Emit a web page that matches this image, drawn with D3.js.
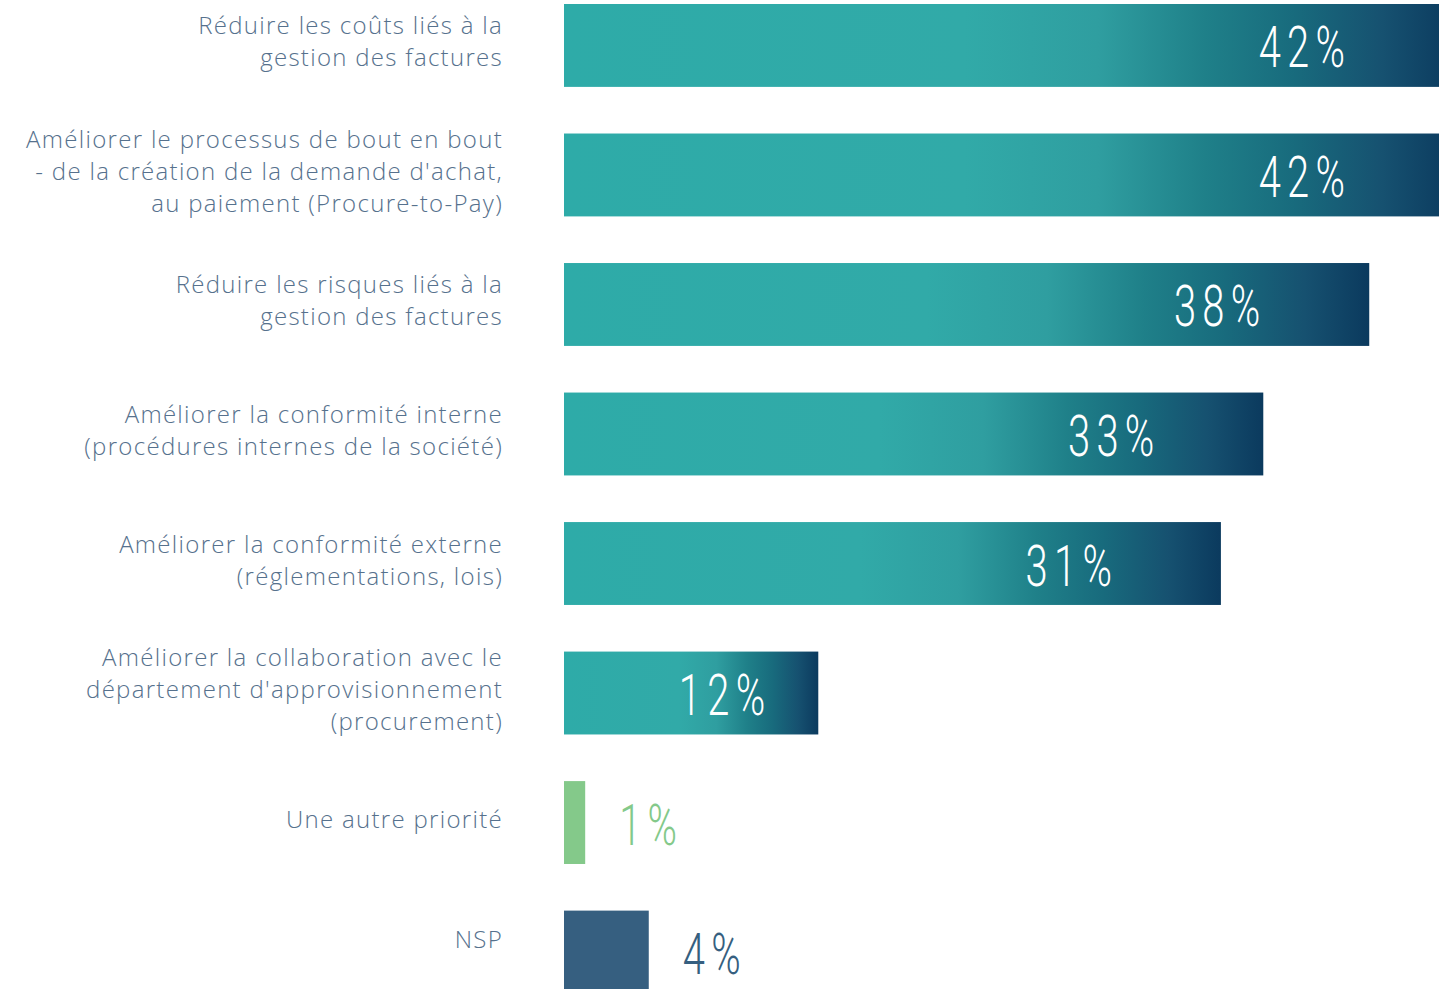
<!DOCTYPE html>
<meta charset="utf-8">
<style>
body { margin: 0; background: #fff; }
.cat { font: 300 24px "Open Sans", sans-serif; letter-spacing: 1.3px; fill: #56718d; }
.val { font-family: Roboto, sans-serif; font-weight: 300; font-size: 57px; letter-spacing: 9px; }
</style>
<svg width="1439" height="989"></svg>
<script src="https://d3js.org/d3.v7.min.js"></script>
<script>
var categories = [
  ["Réduire les coûts liés à la", "gestion des factures"],
  ["Améliorer le processus de bout en bout", "- de la création de la demande d'achat,", "au paiement (Procure-to-Pay)"],
  ["Réduire les risques liés à la", "gestion des factures"],
  ["Améliorer la conformité interne", "(procédures internes de la société)"],
  ["Améliorer la conformité externe", "(réglementations, lois)"],
  ["Améliorer la collaboration avec le", "département d'approvisionnement", "(procurement)"],
  ["Une autre priorité"],
  ["NSP"]
];
var values = [42, 42, 38, 33, 31, 12, 1, 4];
// bar style: "grad" = teal->navy gradient, otherwise plain colour
var barKinds = ["grad", "grad", "grad", "grad", "grad", "grad", "#84c98a", "#365f80"];

var svg = d3.select("svg");

var x = d3.scaleLinear().domain([0, 42]).range([564, 1454]);
var y = d3.scaleBand()
    .domain(d3.range(categories.length))
    .range([4, 993.5])
    .paddingInner(0.36)
    .paddingOuter(0);

var grad = svg.append("defs").append("linearGradient")
    .attr("id", "barGrad")
    .attr("x1", "0%").attr("x2", "100%").attr("y1", "0%").attr("y2", "0%");
[[0, "#2eaba8"], [0.45, "#31aaa8"], [0.6, "#2f9ea0"], [0.72, "#1f8089"], [0.82, "#186b7d"], [0.92, "#165170"], [1, "#0b3a5e"]]
  .forEach(function(s) {
    grad.append("stop").attr("offset", s[0]).attr("stop-color", s[1]);
  });

var rows = svg.selectAll(".row")
    .data(values.map(function(v, i) { return {v: v, i: i, kind: barKinds[i], lines: categories[i]}; }))
  .enter().append("g")
    .attr("class", "row");

rows.append("rect")
    .attr("x", x(0))
    .attr("y", function(d) { return y(d.i); })
    .attr("width", function(d) { return x(d.v) - x(0); })
    .attr("height", y.bandwidth())
    .attr("fill", function(d) { return d.kind == "grad" ? "url(#barGrad)" : d.kind; });

// category labels, right aligned, centred on the bar
rows.append("text")
    .attr("class", "cat")
    .attr("text-anchor", "end")
    .each(function(d) {
      var t = d3.select(this),
          lh = 32,
          cy = y(d.i) + y.bandwidth() / 2 - 3,
          top = cy - (d.lines.length - 1) * lh / 2;
      if (d.lines.length == 1 && d.i == categories.length - 1) top -= 9;
      d.lines.forEach(function(l, k) {
        t.append("tspan").attr("x", 503).attr("y", top + k * lh + 8).text(l);
      });
    });

// value labels
rows.append("text")
    .attr("class", "val")
    .attr("text-anchor", function(d) { return d.kind == "grad" ? "middle" : "start"; })
    .attr("transform", function(d) {
      var end = x(d.v), w = end - x(0),
          px = d.kind == "grad" ? end - Math.min(155, w * 0.39) + 6 : end + 34;
      return "translate(" + px + "," + (y(d.i) + y.bandwidth() / 2 + 22) + ") scale(0.7,1)";
    })
    .attr("fill", function(d) { return d.kind == "grad" ? "#fff" : d.kind; })
    .text(function(d) { return d.v + "%"; });
</script>
